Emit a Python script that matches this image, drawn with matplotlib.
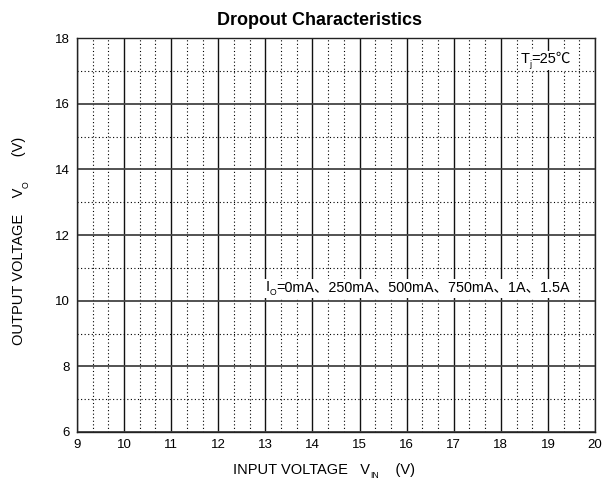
import matplotlib
matplotlib.use("Agg")
import matplotlib.pyplot as plt
from matplotlib.ticker import MultipleLocator
from matplotlib.transforms import offset_copy

plt.rcParams['font.family'] = ['Liberation Sans', 'Noto Sans CJK SC', 'DejaVu Sans']

# axis ranges / ticks
x_ticks = [9, 10, 11, 12, 13, 14, 15, 16, 17, 18, 19, 20]
y_ticks = [6, 8, 10, 12, 14, 16, 18]
# load currents listed on the chart
load_currents = ['0mA', '250mA', '500mA', '750mA', '1A', '1.5A']
tj = 25

fig = plt.figure(figsize=(6.1, 4.87), dpi=100)
ax = fig.add_axes([77 / 610, 55 / 487, 518 / 610, 394 / 487])
renderer = fig.canvas.get_renderer()


def put_text(ax, x, y, parts, size=10.5, bg=True, trans=None):
    # parts: list of (text, is_subscript); each piece placed after the previous one
    if trans is None:
        trans = ax.transData
    dx = 0.0
    boxes = []
    for s, sub in parts:
        fs = size * 0.6 if sub else size
        dy = -4 if sub else 0
        t = ax.text(x, y, s, fontsize=fs, va='baseline', ha='left',
                    transform=offset_copy(trans, fig=fig, x=dx, y=dy, units='dots'),
                    zorder=5)
        ext = t.get_window_extent(renderer)
        dx += ext.width
        boxes.append(ext)
    if bg:
        x0 = min(b.x0 for b in boxes) - 2
        x1 = max(b.x1 for b in boxes) + 2
        y0 = min(b.y0 for b in boxes) - 1
        y1 = max(b.y1 for b in boxes) + 1
        ax.add_patch(plt.Rectangle((x0, y0), x1 - x0, y1 - y0, transform=None,
                                   facecolor='white', edgecolor='none', zorder=4))


ax.set_xlim(x_ticks[0], x_ticks[-1])
ax.set_ylim(y_ticks[0], y_ticks[-1])
ax.set_xticks(x_ticks)
ax.set_yticks(y_ticks)
ax.xaxis.set_minor_locator(MultipleLocator(1 / 3))
ax.yaxis.set_minor_locator(MultipleLocator(1))
ax.tick_params(which='both', length=0, labelsize=9.5, colors='black', pad=5)

ax.grid(which='major', axis='x', color='#111111', linestyle='-', linewidth=1.0)
ax.grid(which='major', axis='y', color='#444444', linestyle='-', linewidth=1.3)
ax.grid(which='minor', color='black', linestyle=(0, (1, 2.2)), linewidth=0.8)
ax.set_axisbelow(True)
for s in ax.spines.values():
    s.set_color('#222222')
    s.set_linewidth(1.0)

ax.text(0.469, 1.022, 'Dropout Characteristics', transform=ax.transAxes,
        fontsize=13, fontweight='bold', ha='center', va='bottom')

# axis labels built from pieces to get the subscripts
put_text(ax, 0.301, -0.107, [('INPUT VOLTAGE   V', False), ('IN', True), ('    (V)', False)],
         bg=False, trans=ax.transAxes)
ylab_parts = [('OUTPUT VOLTAGE    V', False), ('O', True), ('      (V)', False)]
dy = 0.0
for s, sub in ylab_parts:
    fs = 10.5 * 0.6 if sub else 10.5
    t = ax.text(-0.098, 0.221, s, fontsize=fs, rotation=90, va='bottom', ha='left',
                rotation_mode='anchor',
                transform=offset_copy(ax.transAxes, fig=fig, x=(4 if sub else 0), y=dy, units='dots'))
    dy += t.get_window_extent(renderer).height

put_text(ax, 18.41, 17.25, [('T', False), ('j', True), ('=%d℃' % tj, False)], size=10.5)
put_text(ax, 13.01, 10.3, [('I', False), ('O', True), ('=' + '、'.join(load_currents), False)],
         size=10.4)

fig.savefig('out.png', dpi=100)
